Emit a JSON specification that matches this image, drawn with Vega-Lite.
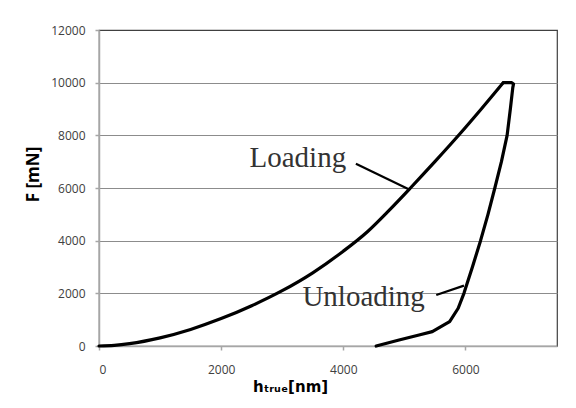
{
  "$schema": "https://vega.github.io/schema/vega-lite/v6.json",
  "width": 458,
  "height": 316,
  "autosize": {"type": "none"},
  "padding": {"left": 99, "top": 30, "right": 19, "bottom": 62},
  "background": "white",
  "config": {
    "view": {"stroke": "#404040", "strokeWidth": 1.2},
    "axis": {
      "labelFont": "Open Sans",
      "labelFontSize": 12,
      "labelColor": "#404040",
      "titleColor": "#000000",
      "titleFontWeight": "bold",
      "domainColor": "#a6a6a6",
      "domainWidth": 1.5,
      "tickColor": "#a6a6a6",
      "tickWidth": 1.5,
      "tickSize": 4
    }
  },
  "datasets": {
    "loading": [
      {"i": 1, "h": 0, "F": 0},
      {"i": 2, "h": 250, "F": 25},
      {"i": 3, "h": 500, "F": 90},
      {"i": 4, "h": 1000, "F": 310},
      {"i": 5, "h": 1500, "F": 630},
      {"i": 6, "h": 2000, "F": 1040},
      {"i": 7, "h": 2500, "F": 1530},
      {"i": 8, "h": 3000, "F": 2100},
      {"i": 9, "h": 3500, "F": 2780},
      {"i": 10, "h": 4000, "F": 3600},
      {"i": 11, "h": 4400, "F": 4350},
      {"i": 12, "h": 4750, "F": 5150},
      {"i": 13, "h": 5100, "F": 6000},
      {"i": 14, "h": 5500, "F": 7000},
      {"i": 15, "h": 5900, "F": 8030},
      {"i": 16, "h": 6260, "F": 9000},
      {"i": 17, "h": 6620, "F": 10000}
    ],
    "unloading": [
      {"i": 1, "h": 6620, "F": 10000},
      {"i": 2, "h": 6760, "F": 10000},
      {"i": 3, "h": 6788, "F": 9950},
      {"i": 4, "h": 6776, "F": 9810},
      {"i": 5, "h": 6738, "F": 9040},
      {"i": 6, "h": 6683, "F": 8000},
      {"i": 7, "h": 6590, "F": 7000},
      {"i": 8, "h": 6482, "F": 6000},
      {"i": 9, "h": 6370, "F": 5000},
      {"i": 10, "h": 6248, "F": 4000},
      {"i": 11, "h": 6115, "F": 3000},
      {"i": 12, "h": 5976, "F": 2000},
      {"i": 13, "h": 5882, "F": 1433},
      {"i": 14, "h": 5742, "F": 924},
      {"i": 15, "h": 5649, "F": 798},
      {"i": 16, "h": 5458, "F": 544},
      {"i": 17, "h": 5241, "F": 420},
      {"i": 18, "h": 4914, "F": 228},
      {"i": 19, "h": 4539, "F": 0}
    ],
    "pointers": [
      {"h": 4207, "F": 6920, "h2": 5089, "F2": 5932},
      {"h": 5523, "F": 1939, "h2": 5976, "F2": 2293}
    ],
    "labels": [
      {"h": 2465, "F": 6806, "label": "Loading"},
      {"h": 3331, "F": 1502, "label": "Unloading"}
    ]
  },
  "layer": [
    {
      "data": {"name": "loading"},
      "mark": {"type": "line", "color": "black", "strokeWidth": 3.2, "strokeJoin": "round", "strokeCap": "round", "interpolate": "monotone"},
      "encoding": {
        "x": {
          "field": "h", "type": "quantitative",
          "scale": {"domain": [0, 7500], "nice": false, "zero": false},
          "axis": {
            "title": "hₜᵣᵤₑ[nm]",
            "titleFont": "DejaVu Sans",
            "titleFontSize": 15,
            "titleX": 191,
            "titlePadding": 4,
            "values": [0, 2000, 4000, 6000],
            "format": "d",
            "grid": false,
            "labelPadding": 14
          }
        },
        "y": {
          "field": "F", "type": "quantitative",
          "scale": {"domain": [0, 12000], "nice": false},
          "axis": {
            "title": "F [mN]",
            "titleFont": "Open Sans",
            "titleFontSize": 17,
            "titleY": 144,
            "titlePadding": 8,
            "values": [0, 2000, 4000, 6000, 8000, 10000, 12000],
            "format": "d",
            "grid": true,
            "gridColor": {"condition": {"test": "datum.value === 12000", "value": "#404040"}, "value": "#8c8c8c"},
            "gridWidth": 1.2,
            "labelPadding": 10
          }
        },
        "order": {"field": "i", "type": "quantitative"}
      }
    },
    {
      "data": {"name": "unloading"},
      "mark": {"type": "line", "color": "black", "strokeWidth": 3.2, "strokeJoin": "round", "strokeCap": "round", "interpolate": "linear"},
      "encoding": {
        "x": {"field": "h", "type": "quantitative"},
        "y": {"field": "F", "type": "quantitative"},
        "order": {"field": "i", "type": "quantitative"}
      }
    },
    {
      "data": {"name": "pointers"},
      "mark": {"type": "rule", "color": "black", "strokeWidth": 2.2},
      "encoding": {
        "x": {"field": "h", "type": "quantitative"},
        "y": {"field": "F", "type": "quantitative"},
        "x2": {"field": "h2"},
        "y2": {"field": "F2"}
      }
    },
    {
      "data": {"name": "labels"},
      "mark": {"type": "text", "align": "left", "baseline": "alphabetic", "font": "Liberation Serif", "fontSize": 29, "color": "#333333"},
      "encoding": {
        "x": {"field": "h", "type": "quantitative"},
        "y": {"field": "F", "type": "quantitative"},
        "text": {"field": "label"}
      }
    }
  ]
}
